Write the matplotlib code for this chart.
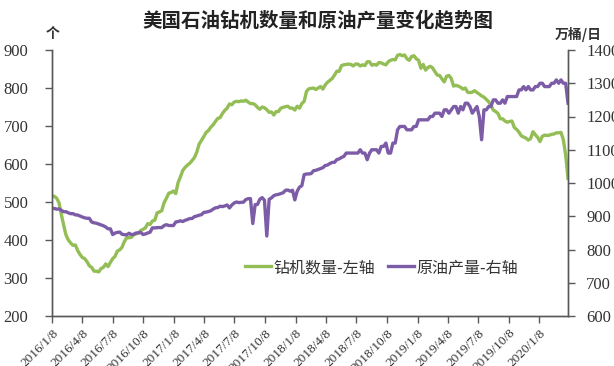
import matplotlib
matplotlib.use("Agg")
import matplotlib.pyplot as plt
import pandas as pd
import numpy as np

# ---- data (weekly, starting 2016-01-08) ----
start_date = "2016-01-08"

rigs_2016 = [516, 515, 510, 498, 467, 439, 413, 400, 392, 386, 387, 372, 362, 354, 351, 343, 332,
             328, 318, 318, 316, 325, 328, 337, 330, 341, 351, 357, 371, 374, 381, 396, 406, 406,
             407, 414, 416, 418, 425, 428, 432, 443, 441, 450, 452, 471, 474, 477, 498, 510, 523, 525]
rigs_2017 = [529, 522, 551, 566, 583, 591, 597, 602, 609, 617, 631, 652, 662, 672, 683, 688, 697,
             703, 712, 720, 722, 733, 741, 747, 758, 756, 763, 765, 764, 766, 765, 768, 763, 759,
             759, 756, 749, 744, 750, 748, 743, 736, 737, 729, 738, 738, 747, 749, 751, 752, 747, 747]
rigs_2018 = [742, 752, 747, 759, 765, 791, 798, 799, 800, 796, 800, 804, 797, 808, 815, 820, 825,
             834, 844, 844, 859, 861, 862, 863, 862, 858, 863, 863, 858, 861, 859, 869, 869, 860,
             862, 860, 867, 866, 863, 861, 869, 873, 875, 874, 886, 888, 885, 887, 877, 873, 883, 885]
rigs_2019 = [877, 873, 852, 862, 847, 854, 857, 853, 843, 834, 833, 824, 816, 831, 833, 825, 805,
             807, 805, 802, 797, 800, 789, 788, 789, 793, 788, 784, 779, 776, 770, 764, 754, 742,
             738, 733, 719, 719, 713, 710, 712, 713, 696, 691, 684, 674, 671, 668, 663, 667, 685, 677]
rigs_2020 = [670, 659, 673, 676, 675, 676, 678, 679, 682, 682, 683, 664, 624, 562]

prod_2016 = [922.7, 923.5, 921.3, 922.1, 917.9, 913.5, 913.7, 910.2, 907.7, 907.8, 904.2, 903.6, 900.6,
             897.7, 895.3, 893.8, 893.8, 882.5, 880.2, 879.1, 876.7, 874.0, 871.5, 867.7, 862.2, 862.2,
             845.0, 849.4, 851.5, 852.3, 845.9, 844.4, 844.1, 848.9, 844.7, 845.7, 849.7, 850.1, 851.5,
             845.0, 846.8, 849.7, 851.9, 865.1, 864.9, 865.7, 866.1, 865.8, 872.0, 874.7, 872.2, 872.0]
prod_2017 = [872.0, 882.6, 884.0, 886.3, 884.1, 887.8, 890.0, 893.1, 893.2, 898.8, 900.7, 903.1, 904.7,
             911.5, 912.5, 914.2, 916.5, 921.3, 925.4, 926.2, 930.2, 929.0, 931.0, 934.0, 925.0, 933.8,
             939.7, 942.9, 941.0, 941.9, 942.3, 950.2, 952.8, 953.0, 878.1, 935.0, 935.3, 951.0, 956.1,
             948.0, 840.6, 950.7, 955.3, 962.0, 964.5, 965.8, 968.2, 970.7, 978.0, 978.9, 975.4, 978.2]
prod_2018 = [949.2, 975.2, 987.5, 991.9, 1025.1, 1027.1, 1027.3, 1028.3, 1036.9, 1038.1, 1040.7, 1043.3,
             1046.0, 1052.5, 1054.0, 1058.6, 1061.9, 1062.3, 1070.3, 1072.5, 1076.9, 1080.0, 1090.0,
             1090.0, 1090.0, 1090.0, 1090.0, 1090.0, 1100.0, 1090.0, 1090.0, 1070.0, 1090.0, 1100.0,
             1100.0, 1100.0, 1090.0, 1110.0, 1110.0, 1120.0, 1090.0, 1090.0, 1120.0, 1120.0, 1160.0,
             1170.0, 1170.0, 1170.0, 1160.0, 1160.0, 1160.0, 1170.0]
prod_2019 = [1170, 1190, 1190, 1190, 1190, 1190, 1200, 1200, 1210, 1210, 1210, 1200, 1220, 1220, 1210,
             1220, 1230, 1230, 1210, 1230, 1220, 1240, 1240, 1230, 1210, 1220, 1230, 1200, 1130, 1220,
             1220, 1230, 1230, 1250, 1250, 1240, 1240, 1250, 1240, 1260, 1260, 1260, 1260, 1260, 1280,
             1280, 1290, 1280, 1290, 1280, 1280, 1290]
prod_2020 = [1290, 1300, 1300, 1290, 1290, 1290, 1300, 1300, 1310, 1300, 1310, 1300, 1300, 1240]

rigs = rigs_2016 + rigs_2017 + rigs_2018 + rigs_2019 + rigs_2020
prod = prod_2016 + prod_2017 + prod_2018 + prod_2019 + prod_2020
dates = pd.date_range(start=start_date, periods=len(rigs), freq="7D")

tick_dates = pd.to_datetime(["2016-01-08", "2016-04-08", "2016-07-08", "2016-10-08",
                             "2017-01-08", "2017-04-08", "2017-07-08", "2017-10-08",
                             "2018-01-08", "2018-04-08", "2018-07-08", "2018-10-08",
                             "2019-01-08", "2019-04-08", "2019-07-08", "2019-10-08",
                             "2020-01-08"])
tick_labels = [f"{d.year}/{d.month}/{d.day}" for d in tick_dates]

title = "美国石油钻机数量和原油产量变化趋势图"
left_label = "个"
right_label = "万桶/日"
rig_name = "钻机数量-左轴"
prod_name = "原油产量-右轴"

# ---- styling ----
cjk = ["Noto Sans CJK SC", "DejaVu Sans"]
serif = ["Liberation Serif", "DejaVu Serif"]
green = "#93BD55"
purple = "#7C5CA7"
axis_col = "#595959"

fig = plt.figure(figsize=(6.14, 3.66), dpi=100)
ax = fig.add_axes([52 / 614, 50 / 366, 516 / 614, 266 / 366])
ax2 = ax.twinx()

l1, = ax.plot(dates, rigs, color=green, lw=2.4, label=rig_name, solid_joinstyle="round")
l2, = ax2.plot(dates, prod, color=purple, lw=2.4, label=prod_name, solid_joinstyle="round")

ax.set_xlim(dates[0], dates[-1])
ax.set_ylim(200, 900)
ax2.set_ylim(600, 1400)
ax.set_yticks(np.arange(200, 901, 100))
ax2.set_yticks(np.arange(600, 1401, 100))
ax.set_xticks(tick_dates)
ax.set_xticklabels(tick_labels, rotation=45, ha="right", rotation_mode="anchor",
                   fontfamily=serif, fontsize=9.5, color="#333333")

for a in (ax, ax2):
    a.spines["top"].set_visible(False)
    for s in ("left", "right", "bottom"):
        a.spines[s].set_color(axis_col)
        a.spines[s].set_linewidth(1.0)
    a.tick_params(axis="both", direction="out", length=5, width=1, color=axis_col)

ax.tick_params(axis="y", pad=12)
ax2.tick_params(axis="y", pad=8)
ax.tick_params(axis="x", pad=3)
for lab in ax.get_yticklabels() + ax2.get_yticklabels():
    lab.set_fontfamily(serif)
    lab.set_fontsize(12)
    lab.set_color("#333333")

fig.text(318 / 614, 1 - 20 / 366, title, ha="center", va="center", fontfamily=cjk,
         fontsize=14, fontweight="bold", color="#222222")
fig.text(53 / 614, 1 - 34 / 366, left_label, ha="center", va="center", fontfamily=cjk,
         fontsize=10, fontweight="bold", color="#333333")
fig.text(578 / 614, 1 - 34 / 366, right_label, ha="center", va="center", fontfamily=cjk,
         fontsize=10, fontweight="bold", color="#333333")

leg = ax.legend(handles=[l1, l2], loc="center", bbox_to_anchor=(0.639, 0.182), ncol=2,
                frameon=False, prop={"family": cjk, "size": 11.5}, handlelength=1.6,
                handletextpad=0.2, columnspacing=0.8)
for t in leg.get_texts():
    t.set_color("#333333")

fig.savefig("out.png", dpi=100)
